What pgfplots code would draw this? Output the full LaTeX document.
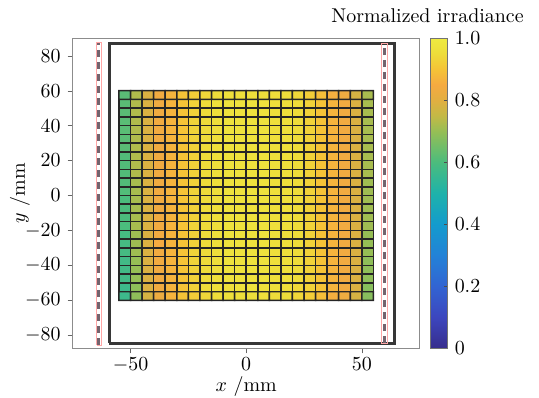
\documentclass[border=0pt]{standalone}
\usepackage{pgfplots}
\pgfplotsset{compat=1.18}
\definecolor{dashc}{RGB}{115,100,110}
\definecolor{framec}{RGB}{55,55,55}
\begin{document}
\begin{tikzpicture}
\path (-36.35bp,-24.5bp) rectangle (233.15bp,174.15bp);
\begin{axis}[
  at={(0,0)}, anchor=south west,
  scale only axis, width=173.5bp, height=155bp,
  xmin=-75, xmax=75, ymin=-87.5, ymax=90,
  xtick={-50,0,50}, ytick={-80,-60,...,80},
  xtick pos=bottom, ytick pos=left,
  tick align=outside, major tick length=2.5bp,
  axis line style={black!45}, tick style={black!60},
  xticklabel style={inner sep=0pt, yshift=-2bp},
  xlabel={$x$ /mm}, ylabel={$y$ /mm},
  xlabel style={at={(axis description cs:0.5,-0.123)}, anchor=center, inner sep=0pt},
  ylabel style={at={(axis description cs:-0.152,0.5)}, anchor=center},
  colormap={parulaish}{rgb255(0cm)=(55,45,140) rgb255(2cm)=(60,70,190) rgb255(4cm)=(50,100,210) rgb255(6cm)=(35,130,215) rgb255(8cm)=(20,155,205) rgb255(10cm)=(30,178,170) rgb255(12cm)=(75,188,125) rgb255(14cm)=(150,190,85) rgb255(15cm)=(195,185,70) rgb255(16cm)=(225,175,65) rgb255(17cm)=(245,170,65) rgb255(18cm)=(245,195,55) rgb255(19cm)=(238,220,58) rgb255(20cm)=(238,235,65)},
  point meta min=0, point meta max=1,
  colorbar,
  colorbar style={at={(parent axis.north east)}, anchor=north west, xshift=-3bp, width=8.5bp, scale only axis,
    ytick={0,0.2,0.4,0.6,0.8,1}, yticklabels={0,0.2,0.4,0.6,0.8,1.0},
    tick align=inside, major tick length=2bp, axis line style={black!55}, tick style={black!70},
    ytick pos=right, yticklabel pos=right},
]
\addplot[matrix plot*, shader=faceted, faceted color=black!85, line width=0.75bp, mesh/cols=22, point meta=explicit]
 table[row sep=\\, meta=c] {
x y c \\
-52.5 -57.5 0.57 \\ -47.5 -57.5 0.69 \\ -42.5 -57.5 0.78 \\ -37.5 -57.5 0.83 \\ -32.5 -57.5 0.87 \\ -27.5 -57.5 0.90 \\ -22.5 -57.5 0.92 \\ -17.5 -57.5 0.94 \\ -12.5 -57.5 0.95 \\ -7.5 -57.5 0.96 \\ -2.5 -57.5 0.96 \\ 2.5 -57.5 0.96 \\ 7.5 -57.5 0.96 \\ 12.5 -57.5 0.95 \\ 17.5 -57.5 0.95 \\ 22.5 -57.5 0.94 \\ 27.5 -57.5 0.92 \\ 32.5 -57.5 0.89 \\ 37.5 -57.5 0.86 \\ 42.5 -57.5 0.83 \\ 47.5 -57.5 0.78 \\ 52.5 -57.5 0.68 \\
-52.5 -52.5 0.57 \\ -47.5 -52.5 0.69 \\ -42.5 -52.5 0.79 \\ -37.5 -52.5 0.84 \\ -32.5 -52.5 0.87 \\ -27.5 -52.5 0.90 \\ -22.5 -52.5 0.93 \\ -17.5 -52.5 0.95 \\ -12.5 -52.5 0.96 \\ -7.5 -52.5 0.96 \\ -2.5 -52.5 0.97 \\ 2.5 -52.5 0.97 \\ 7.5 -52.5 0.96 \\ 12.5 -52.5 0.96 \\ 17.5 -52.5 0.95 \\ 22.5 -52.5 0.94 \\ 27.5 -52.5 0.93 \\ 32.5 -52.5 0.90 \\ 37.5 -52.5 0.87 \\ 42.5 -52.5 0.84 \\ 47.5 -52.5 0.79 \\ 52.5 -52.5 0.68 \\
-52.5 -47.5 0.58 \\ -47.5 -47.5 0.70 \\ -42.5 -47.5 0.79 \\ -37.5 -47.5 0.84 \\ -32.5 -47.5 0.87 \\ -27.5 -47.5 0.90 \\ -22.5 -47.5 0.93 \\ -17.5 -47.5 0.95 \\ -12.5 -47.5 0.96 \\ -7.5 -47.5 0.97 \\ -2.5 -47.5 0.97 \\ 2.5 -47.5 0.97 \\ 7.5 -47.5 0.97 \\ 12.5 -47.5 0.96 \\ 17.5 -47.5 0.96 \\ 22.5 -47.5 0.95 \\ 27.5 -47.5 0.93 \\ 32.5 -47.5 0.90 \\ 37.5 -47.5 0.87 \\ 42.5 -47.5 0.84 \\ 47.5 -47.5 0.79 \\ 52.5 -47.5 0.69 \\
-52.5 -42.5 0.58 \\ -47.5 -42.5 0.70 \\ -42.5 -42.5 0.79 \\ -37.5 -42.5 0.84 \\ -32.5 -42.5 0.87 \\ -27.5 -42.5 0.90 \\ -22.5 -42.5 0.93 \\ -17.5 -42.5 0.95 \\ -12.5 -42.5 0.96 \\ -7.5 -42.5 0.97 \\ -2.5 -42.5 0.97 \\ 2.5 -42.5 0.97 \\ 7.5 -42.5 0.97 \\ 12.5 -42.5 0.96 \\ 17.5 -42.5 0.96 \\ 22.5 -42.5 0.95 \\ 27.5 -42.5 0.93 \\ 32.5 -42.5 0.90 \\ 37.5 -42.5 0.87 \\ 42.5 -42.5 0.84 \\ 47.5 -42.5 0.79 \\ 52.5 -42.5 0.69 \\
-52.5 -37.5 0.58 \\ -47.5 -37.5 0.70 \\ -42.5 -37.5 0.79 \\ -37.5 -37.5 0.84 \\ -32.5 -37.5 0.87 \\ -27.5 -37.5 0.90 \\ -22.5 -37.5 0.93 \\ -17.5 -37.5 0.95 \\ -12.5 -37.5 0.96 \\ -7.5 -37.5 0.97 \\ -2.5 -37.5 0.97 \\ 2.5 -37.5 0.97 \\ 7.5 -37.5 0.97 \\ 12.5 -37.5 0.96 \\ 17.5 -37.5 0.96 \\ 22.5 -37.5 0.95 \\ 27.5 -37.5 0.93 \\ 32.5 -37.5 0.90 \\ 37.5 -37.5 0.87 \\ 42.5 -37.5 0.84 \\ 47.5 -37.5 0.79 \\ 52.5 -37.5 0.69 \\
-52.5 -32.5 0.59 \\ -47.5 -32.5 0.71 \\ -42.5 -32.5 0.79 \\ -37.5 -32.5 0.84 \\ -32.5 -32.5 0.87 \\ -27.5 -32.5 0.90 \\ -22.5 -32.5 0.93 \\ -17.5 -32.5 0.95 \\ -12.5 -32.5 0.96 \\ -7.5 -32.5 0.97 \\ -2.5 -32.5 0.97 \\ 2.5 -32.5 0.97 \\ 7.5 -32.5 0.97 \\ 12.5 -32.5 0.96 \\ 17.5 -32.5 0.96 \\ 22.5 -32.5 0.95 \\ 27.5 -32.5 0.93 \\ 32.5 -32.5 0.90 \\ 37.5 -32.5 0.87 \\ 42.5 -32.5 0.84 \\ 47.5 -32.5 0.79 \\ 52.5 -32.5 0.70 \\
-52.5 -27.5 0.59 \\ -47.5 -27.5 0.71 \\ -42.5 -27.5 0.79 \\ -37.5 -27.5 0.85 \\ -32.5 -27.5 0.87 \\ -27.5 -27.5 0.90 \\ -22.5 -27.5 0.93 \\ -17.5 -27.5 0.95 \\ -12.5 -27.5 0.96 \\ -7.5 -27.5 0.97 \\ -2.5 -27.5 0.97 \\ 2.5 -27.5 0.97 \\ 7.5 -27.5 0.97 \\ 12.5 -27.5 0.96 \\ 17.5 -27.5 0.96 \\ 22.5 -27.5 0.95 \\ 27.5 -27.5 0.93 \\ 32.5 -27.5 0.90 \\ 37.5 -27.5 0.87 \\ 42.5 -27.5 0.84 \\ 47.5 -27.5 0.79 \\ 52.5 -27.5 0.70 \\
-52.5 -22.5 0.59 \\ -47.5 -22.5 0.71 \\ -42.5 -22.5 0.79 \\ -37.5 -22.5 0.84 \\ -32.5 -22.5 0.87 \\ -27.5 -22.5 0.90 \\ -22.5 -22.5 0.93 \\ -17.5 -22.5 0.95 \\ -12.5 -22.5 0.96 \\ -7.5 -22.5 0.97 \\ -2.5 -22.5 0.97 \\ 2.5 -22.5 0.97 \\ 7.5 -22.5 0.97 \\ 12.5 -22.5 0.96 \\ 17.5 -22.5 0.96 \\ 22.5 -22.5 0.95 \\ 27.5 -22.5 0.93 \\ 32.5 -22.5 0.90 \\ 37.5 -22.5 0.87 \\ 42.5 -22.5 0.84 \\ 47.5 -22.5 0.79 \\ 52.5 -22.5 0.70 \\
-52.5 -17.5 0.60 \\ -47.5 -17.5 0.72 \\ -42.5 -17.5 0.79 \\ -37.5 -17.5 0.84 \\ -32.5 -17.5 0.87 \\ -27.5 -17.5 0.90 \\ -22.5 -17.5 0.93 \\ -17.5 -17.5 0.95 \\ -12.5 -17.5 0.96 \\ -7.5 -17.5 0.97 \\ -2.5 -17.5 0.97 \\ 2.5 -17.5 0.97 \\ 7.5 -17.5 0.97 \\ 12.5 -17.5 0.96 \\ 17.5 -17.5 0.96 \\ 22.5 -17.5 0.95 \\ 27.5 -17.5 0.93 \\ 32.5 -17.5 0.90 \\ 37.5 -17.5 0.87 \\ 42.5 -17.5 0.84 \\ 47.5 -17.5 0.79 \\ 52.5 -17.5 0.71 \\
-52.5 -12.5 0.60 \\ -47.5 -12.5 0.72 \\ -42.5 -12.5 0.79 \\ -37.5 -12.5 0.84 \\ -32.5 -12.5 0.87 \\ -27.5 -12.5 0.90 \\ -22.5 -12.5 0.93 \\ -17.5 -12.5 0.95 \\ -12.5 -12.5 0.96 \\ -7.5 -12.5 0.97 \\ -2.5 -12.5 0.97 \\ 2.5 -12.5 0.97 \\ 7.5 -12.5 0.97 \\ 12.5 -12.5 0.96 \\ 17.5 -12.5 0.96 \\ 22.5 -12.5 0.95 \\ 27.5 -12.5 0.93 \\ 32.5 -12.5 0.90 \\ 37.5 -12.5 0.87 \\ 42.5 -12.5 0.84 \\ 47.5 -12.5 0.79 \\ 52.5 -12.5 0.71 \\
-52.5 -7.5 0.60 \\ -47.5 -7.5 0.72 \\ -42.5 -7.5 0.79 \\ -37.5 -7.5 0.84 \\ -32.5 -7.5 0.87 \\ -27.5 -7.5 0.90 \\ -22.5 -7.5 0.93 \\ -17.5 -7.5 0.95 \\ -12.5 -7.5 0.96 \\ -7.5 -7.5 0.97 \\ -2.5 -7.5 0.97 \\ 2.5 -7.5 0.97 \\ 7.5 -7.5 0.97 \\ 12.5 -7.5 0.96 \\ 17.5 -7.5 0.96 \\ 22.5 -7.5 0.95 \\ 27.5 -7.5 0.93 \\ 32.5 -7.5 0.90 \\ 37.5 -7.5 0.87 \\ 42.5 -7.5 0.84 \\ 47.5 -7.5 0.79 \\ 52.5 -7.5 0.71 \\
-52.5 -2.5 0.60 \\ -47.5 -2.5 0.72 \\ -42.5 -2.5 0.79 \\ -37.5 -2.5 0.84 \\ -32.5 -2.5 0.87 \\ -27.5 -2.5 0.90 \\ -22.5 -2.5 0.93 \\ -17.5 -2.5 0.95 \\ -12.5 -2.5 0.96 \\ -7.5 -2.5 0.97 \\ -2.5 -2.5 0.97 \\ 2.5 -2.5 0.97 \\ 7.5 -2.5 0.97 \\ 12.5 -2.5 0.96 \\ 17.5 -2.5 0.96 \\ 22.5 -2.5 0.95 \\ 27.5 -2.5 0.93 \\ 32.5 -2.5 0.90 \\ 37.5 -2.5 0.87 \\ 42.5 -2.5 0.84 \\ 47.5 -2.5 0.79 \\ 52.5 -2.5 0.71 \\
-52.5 2.5 0.61 \\ -47.5 2.5 0.72 \\ -42.5 2.5 0.79 \\ -37.5 2.5 0.84 \\ -32.5 2.5 0.87 \\ -27.5 2.5 0.90 \\ -22.5 2.5 0.93 \\ -17.5 2.5 0.95 \\ -12.5 2.5 0.96 \\ -7.5 2.5 0.97 \\ -2.5 2.5 0.97 \\ 2.5 2.5 0.97 \\ 7.5 2.5 0.97 \\ 12.5 2.5 0.96 \\ 17.5 2.5 0.96 \\ 22.5 2.5 0.95 \\ 27.5 2.5 0.93 \\ 32.5 2.5 0.90 \\ 37.5 2.5 0.87 \\ 42.5 2.5 0.84 \\ 47.5 2.5 0.79 \\ 52.5 2.5 0.71 \\
-52.5 7.5 0.61 \\ -47.5 7.5 0.72 \\ -42.5 7.5 0.79 \\ -37.5 7.5 0.84 \\ -32.5 7.5 0.87 \\ -27.5 7.5 0.90 \\ -22.5 7.5 0.93 \\ -17.5 7.5 0.95 \\ -12.5 7.5 0.96 \\ -7.5 7.5 0.97 \\ -2.5 7.5 0.97 \\ 2.5 7.5 0.97 \\ 7.5 7.5 0.97 \\ 12.5 7.5 0.96 \\ 17.5 7.5 0.96 \\ 22.5 7.5 0.95 \\ 27.5 7.5 0.93 \\ 32.5 7.5 0.90 \\ 37.5 7.5 0.87 \\ 42.5 7.5 0.84 \\ 47.5 7.5 0.79 \\ 52.5 7.5 0.71 \\
-52.5 12.5 0.61 \\ -47.5 12.5 0.73 \\ -42.5 12.5 0.79 \\ -37.5 12.5 0.84 \\ -32.5 12.5 0.87 \\ -27.5 12.5 0.90 \\ -22.5 12.5 0.93 \\ -17.5 12.5 0.95 \\ -12.5 12.5 0.96 \\ -7.5 12.5 0.97 \\ -2.5 12.5 0.97 \\ 2.5 12.5 0.97 \\ 7.5 12.5 0.97 \\ 12.5 12.5 0.96 \\ 17.5 12.5 0.96 \\ 22.5 12.5 0.95 \\ 27.5 12.5 0.93 \\ 32.5 12.5 0.90 \\ 37.5 12.5 0.87 \\ 42.5 12.5 0.84 \\ 47.5 12.5 0.79 \\ 52.5 12.5 0.72 \\
-52.5 17.5 0.61 \\ -47.5 17.5 0.73 \\ -42.5 17.5 0.79 \\ -37.5 17.5 0.84 \\ -32.5 17.5 0.87 \\ -27.5 17.5 0.90 \\ -22.5 17.5 0.93 \\ -17.5 17.5 0.95 \\ -12.5 17.5 0.96 \\ -7.5 17.5 0.97 \\ -2.5 17.5 0.97 \\ 2.5 17.5 0.97 \\ 7.5 17.5 0.97 \\ 12.5 17.5 0.96 \\ 17.5 17.5 0.96 \\ 22.5 17.5 0.95 \\ 27.5 17.5 0.93 \\ 32.5 17.5 0.90 \\ 37.5 17.5 0.87 \\ 42.5 17.5 0.84 \\ 47.5 17.5 0.79 \\ 52.5 17.5 0.72 \\
-52.5 22.5 0.61 \\ -47.5 22.5 0.73 \\ -42.5 22.5 0.79 \\ -37.5 22.5 0.84 \\ -32.5 22.5 0.87 \\ -27.5 22.5 0.90 \\ -22.5 22.5 0.93 \\ -17.5 22.5 0.95 \\ -12.5 22.5 0.96 \\ -7.5 22.5 0.97 \\ -2.5 22.5 0.97 \\ 2.5 22.5 0.97 \\ 7.5 22.5 0.97 \\ 12.5 22.5 0.96 \\ 17.5 22.5 0.96 \\ 22.5 22.5 0.95 \\ 27.5 22.5 0.93 \\ 32.5 22.5 0.90 \\ 37.5 22.5 0.87 \\ 42.5 22.5 0.84 \\ 47.5 22.5 0.79 \\ 52.5 22.5 0.72 \\
-52.5 27.5 0.62 \\ -47.5 27.5 0.73 \\ -42.5 27.5 0.79 \\ -37.5 27.5 0.84 \\ -32.5 27.5 0.87 \\ -27.5 27.5 0.90 \\ -22.5 27.5 0.93 \\ -17.5 27.5 0.95 \\ -12.5 27.5 0.96 \\ -7.5 27.5 0.97 \\ -2.5 27.5 0.97 \\ 2.5 27.5 0.97 \\ 7.5 27.5 0.97 \\ 12.5 27.5 0.96 \\ 17.5 27.5 0.96 \\ 22.5 27.5 0.95 \\ 27.5 27.5 0.93 \\ 32.5 27.5 0.90 \\ 37.5 27.5 0.87 \\ 42.5 27.5 0.84 \\ 47.5 27.5 0.79 \\ 52.5 27.5 0.72 \\
-52.5 32.5 0.62 \\ -47.5 32.5 0.73 \\ -42.5 32.5 0.79 \\ -37.5 32.5 0.84 \\ -32.5 32.5 0.87 \\ -27.5 32.5 0.90 \\ -22.5 32.5 0.93 \\ -17.5 32.5 0.95 \\ -12.5 32.5 0.96 \\ -7.5 32.5 0.97 \\ -2.5 32.5 0.97 \\ 2.5 32.5 0.97 \\ 7.5 32.5 0.97 \\ 12.5 32.5 0.96 \\ 17.5 32.5 0.96 \\ 22.5 32.5 0.95 \\ 27.5 32.5 0.93 \\ 32.5 32.5 0.90 \\ 37.5 32.5 0.87 \\ 42.5 32.5 0.84 \\ 47.5 32.5 0.79 \\ 52.5 32.5 0.72 \\
-52.5 37.5 0.62 \\ -47.5 37.5 0.73 \\ -42.5 37.5 0.79 \\ -37.5 37.5 0.84 \\ -32.5 37.5 0.87 \\ -27.5 37.5 0.90 \\ -22.5 37.5 0.93 \\ -17.5 37.5 0.95 \\ -12.5 37.5 0.96 \\ -7.5 37.5 0.97 \\ -2.5 37.5 0.97 \\ 2.5 37.5 0.97 \\ 7.5 37.5 0.97 \\ 12.5 37.5 0.96 \\ 17.5 37.5 0.96 \\ 22.5 37.5 0.95 \\ 27.5 37.5 0.93 \\ 32.5 37.5 0.90 \\ 37.5 37.5 0.87 \\ 42.5 37.5 0.84 \\ 47.5 37.5 0.79 \\ 52.5 37.5 0.72 \\
-52.5 42.5 0.62 \\ -47.5 42.5 0.73 \\ -42.5 42.5 0.79 \\ -37.5 42.5 0.84 \\ -32.5 42.5 0.87 \\ -27.5 42.5 0.90 \\ -22.5 42.5 0.93 \\ -17.5 42.5 0.95 \\ -12.5 42.5 0.96 \\ -7.5 42.5 0.97 \\ -2.5 42.5 0.97 \\ 2.5 42.5 0.97 \\ 7.5 42.5 0.97 \\ 12.5 42.5 0.96 \\ 17.5 42.5 0.96 \\ 22.5 42.5 0.95 \\ 27.5 42.5 0.93 \\ 32.5 42.5 0.90 \\ 37.5 42.5 0.87 \\ 42.5 42.5 0.84 \\ 47.5 42.5 0.79 \\ 52.5 42.5 0.72 \\
-52.5 47.5 0.62 \\ -47.5 47.5 0.73 \\ -42.5 47.5 0.79 \\ -37.5 47.5 0.84 \\ -32.5 47.5 0.87 \\ -27.5 47.5 0.90 \\ -22.5 47.5 0.93 \\ -17.5 47.5 0.95 \\ -12.5 47.5 0.96 \\ -7.5 47.5 0.97 \\ -2.5 47.5 0.97 \\ 2.5 47.5 0.97 \\ 7.5 47.5 0.97 \\ 12.5 47.5 0.96 \\ 17.5 47.5 0.96 \\ 22.5 47.5 0.95 \\ 27.5 47.5 0.93 \\ 32.5 47.5 0.90 \\ 37.5 47.5 0.87 \\ 42.5 47.5 0.84 \\ 47.5 47.5 0.79 \\ 52.5 47.5 0.72 \\
-52.5 52.5 0.62 \\ -47.5 52.5 0.73 \\ -42.5 52.5 0.79 \\ -37.5 52.5 0.84 \\ -32.5 52.5 0.87 \\ -27.5 52.5 0.90 \\ -22.5 52.5 0.93 \\ -17.5 52.5 0.95 \\ -12.5 52.5 0.96 \\ -7.5 52.5 0.97 \\ -2.5 52.5 0.97 \\ 2.5 52.5 0.97 \\ 7.5 52.5 0.97 \\ 12.5 52.5 0.96 \\ 17.5 52.5 0.96 \\ 22.5 52.5 0.95 \\ 27.5 52.5 0.93 \\ 32.5 52.5 0.90 \\ 37.5 52.5 0.87 \\ 42.5 52.5 0.84 \\ 47.5 52.5 0.79 \\ 52.5 52.5 0.72 \\
-52.5 57.5 0.62 \\ -47.5 57.5 0.73 \\ -42.5 57.5 0.79 \\ -37.5 57.5 0.84 \\ -32.5 57.5 0.87 \\ -27.5 57.5 0.90 \\ -22.5 57.5 0.92 \\ -17.5 57.5 0.94 \\ -12.5 57.5 0.95 \\ -7.5 57.5 0.96 \\ -2.5 57.5 0.96 \\ 2.5 57.5 0.96 \\ 7.5 57.5 0.96 \\ 12.5 57.5 0.95 \\ 17.5 57.5 0.95 \\ 22.5 57.5 0.94 \\ 27.5 57.5 0.92 \\ 32.5 57.5 0.89 \\ 37.5 57.5 0.86 \\ 42.5 57.5 0.83 \\ 47.5 57.5 0.78 \\ 52.5 57.5 0.72 \\
};
\addplot[framec, line width=1.5bp, line join=miter, no marks] coordinates {(-59.2,-84.7) (63.9,-84.7) (63.9,86.8) (-59.2,86.8) (-59.2,-84.7)};
\addplot[red!35, line width=0.3bp, no marks] coordinates {(-64.7,-85.7) (-62.8,-85.7) (-62.8,87.6) (-64.7,87.6) (-64.7,-85.7)};
\addplot[red!35, line width=0.3bp, no marks] coordinates {(58.4,-84.8) (60.8,-84.8) (60.8,87.2) (58.4,87.2) (58.4,-84.8)};
\addplot[dashc, line width=1.5bp, dash pattern=on 3.5bp off 2.5bp, no marks] coordinates {(-63.75,-85.5) (-63.75,87.4)};
\addplot[dashc, line width=1.5bp, dash pattern=on 3.5bp off 2.5bp, no marks] coordinates {(59.6,-84.6) (59.6,87.0)};
\end{axis}
\node[anchor=base west, inner sep=0pt] at (129.15bp,162.65bp) {Normalized irradiance};
\end{tikzpicture}
\end{document}
